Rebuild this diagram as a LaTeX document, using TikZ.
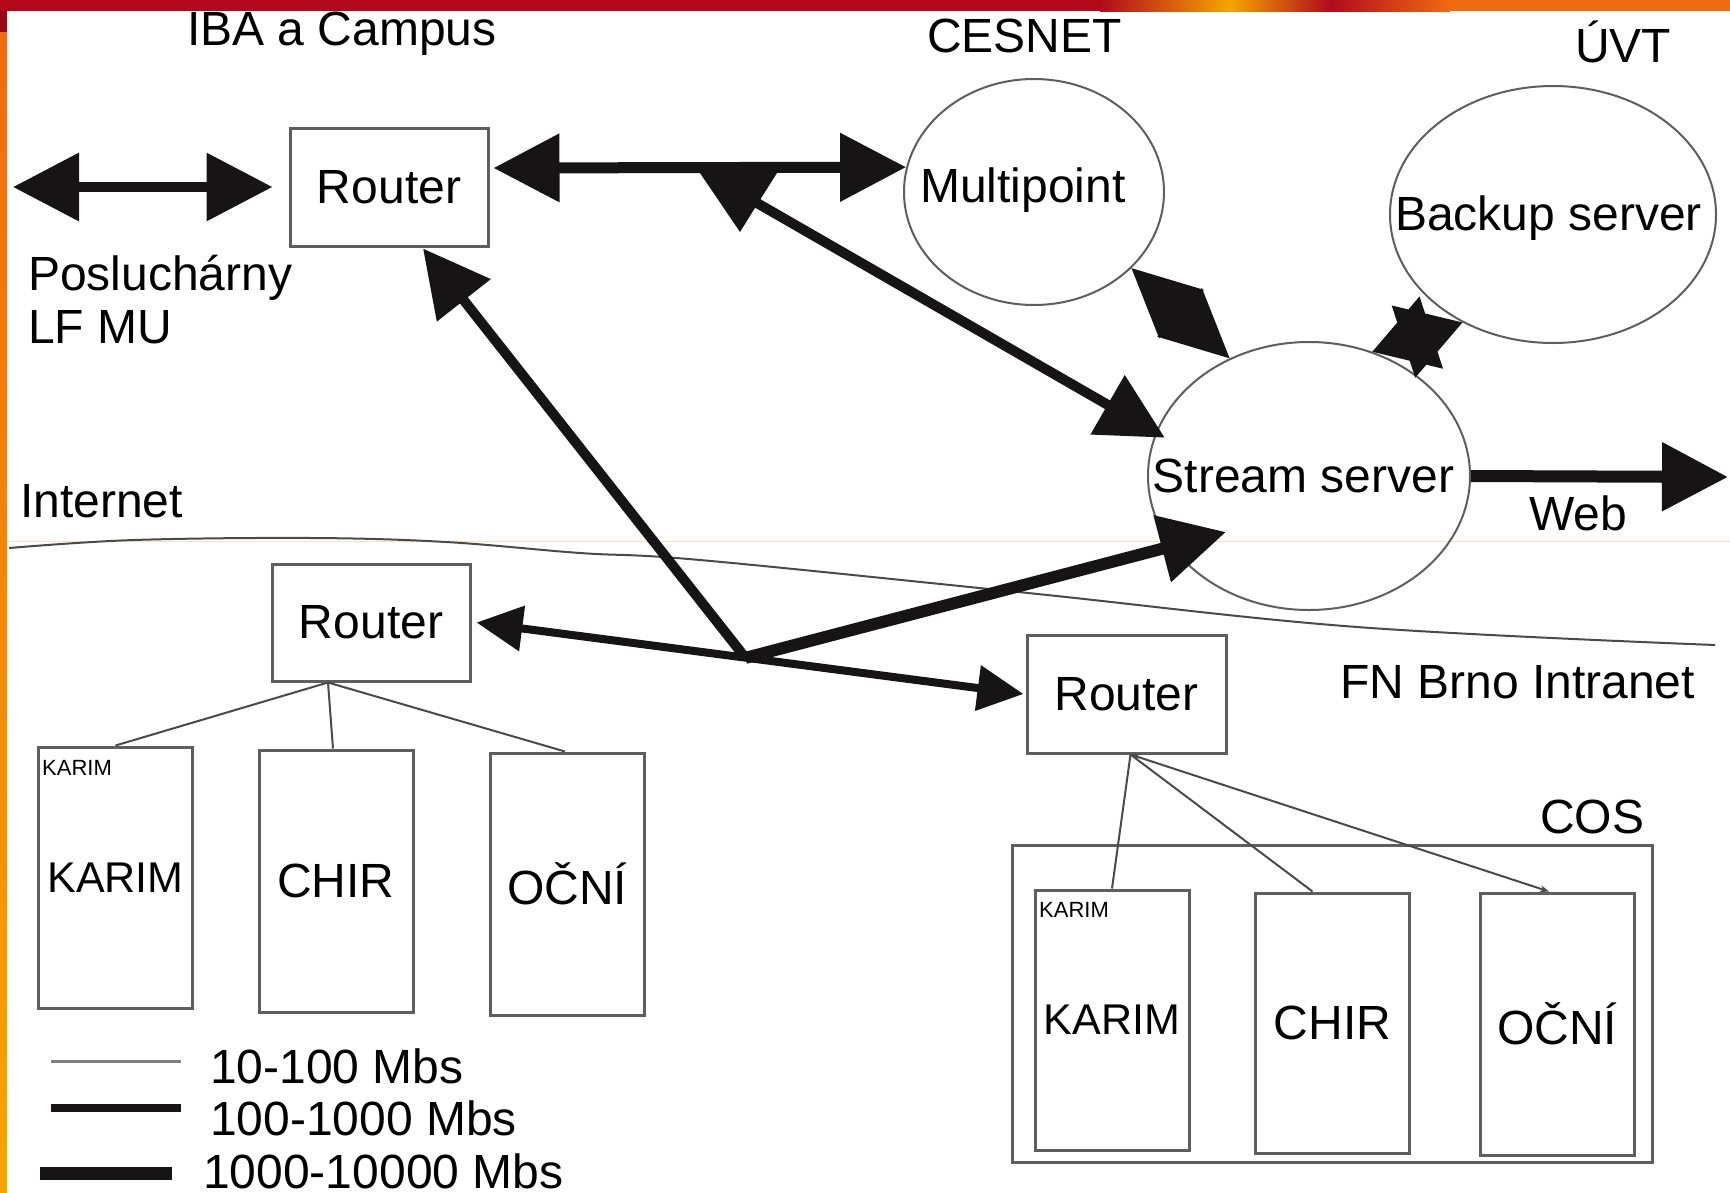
\documentclass[tikz,border=0pt]{standalone}
\usepackage{fontspec}
\setmainfont{Liberation Sans}
\usetikzlibrary{arrows.meta,calc,shapes.geometric}
\definecolor{barred}{HTML}{B20A1C}
\definecolor{barorange}{HTML}{F06A12}
\definecolor{baryellow}{HTML}{F5A500}
\definecolor{boxgray}{HTML}{5E5E5E}
\definecolor{thingray}{HTML}{4A4A4A}
\definecolor{inkblack}{HTML}{161414}
% pair of arrow heads pointing at the two ends of a very short link (one filled path, no seam)
\newcommand\headpair[4]{%
  \fill[inkblack, nonzero rule]
    (#1) -- ($(#1)!#3!(#2)!#4!90:(#2)$) -- ($(#1)!#3!(#2)!#4!-90:(#2)$) -- cycle
    (#2) -- ($(#2)!#3!(#1)!#4!90:(#1)$) -- ($(#2)!#3!(#1)!#4!-90:(#1)$) -- cycle;}
\begin{document}
\begin{tikzpicture}[x=1pt,y=-1pt,
  lbl/.style={inner sep=0pt, anchor=base west, font=\fontsize{48}{56}\selectfont},
  smalllbl/.style={inner sep=0pt, anchor=base west, font=\fontsize{22}{26}\selectfont},
  box/.style={draw=boxgray, line width=3pt, inner sep=0pt, font=\fontsize{48}{56}\selectfont},
  vbox/.style={box, minimum width=154pt, minimum height=261pt},
  ell/.style={draw=boxgray, line width=2pt, ellipse, inner sep=0pt},
  thinlink/.style={draw=thingray, line width=2pt},
  bigtip/.style={draw=inkblack, arrows={-Triangle[length=66pt,width=66pt]}},
  bigdbl/.style={draw=inkblack, arrows={Triangle[length=66pt,width=66pt]-Triangle[length=66pt,width=66pt]}},
  meddbl/.style={draw=inkblack, arrows={Triangle[length=46pt,width=44pt]-Triangle[length=46pt,width=44pt]}},
]
\useasboundingbox (0,0) rectangle (1730,1192);
\fill[white] (0,0) rectangle (1730,1192);

% faint guide line and Internet / Intranet boundary
\draw[orange!25, line width=1pt] (7,541) -- (1730,541);
\draw[thingray, line width=2pt] plot[smooth, tension=0.6] coordinates
  {(9,548) (134,540) (312,538) (446,542) (580,553) (700,560) (1028,593) (1357,627) (1715,645)};

% routers
\node[box, minimum width=198pt, minimum height=118pt] (rt) at (389,187) {Router};
\node[box, minimum width=198pt, minimum height=117pt] (rl) at (371,622.5) {Router};
\node[box, minimum width=199pt, minimum height=118pt] (rr) at (1126.5,694) {Router};

% servers
\node[ell, minimum width=260pt, minimum height=226pt] (mp) at (1034,192) {};
\node[ell, minimum width=326pt, minimum height=257pt] (bk) at (1553,214.5) {};
\node[ell, minimum width=322pt, minimum height=268pt] (ss) at (1309,476) {};
\node[lbl, anchor=base] (mpt) at (1023,202) {Multipoint};
\node[lbl, anchor=base] (bkt) at (1548.5,230) {Backup server};
\node[lbl, anchor=base] (sst) at (1303.5,492) {Stream server};

% departments left
\node[vbox] (kl) at (115.5,877.5) {\fontsize{43}{50}\selectfont KARIM};
\node[vbox, minimum height=262pt] (cl) at (336,881) {CHIR};
\node[vbox, minimum height=262pt] (ol) at (567,884) {OČNÍ};
\node[smalllbl] (kls) at (42,775) {KARIM};

% COS
\node[draw=boxgray, line width=3pt, inner sep=0pt, minimum width=640pt, minimum height=317pt] (cos) at (1332,1003.5) {};
\node[vbox, minimum height=260pt] (kr) at (1112,1020) {\fontsize{43}{50}\selectfont KARIM};
\node[vbox, minimum height=260pt] (cr) at (1332.5,1023) {CHIR};
\node[vbox, minimum height=262pt] (or) at (1557,1024) {OČNÍ};
\node[smalllbl] (krs) at (1039,917) {KARIM};

% thick links
\coordinate (pl) at (13,187);
\draw[line width=10pt, bigdbl] (pl) -- ([xshift=-16pt]rt.west);
\draw[line width=11pt, bigdbl] ([shift={(4pt,19pt)}]rt.east) -- (mp.169);
\coordinate (tj) at (757,203);
\draw[line width=10pt, bigtip] (tj) -- ([shift={(10pt,-3pt)}]ss.165);
\fill[inkblack] (700,173) -- (777,173) -- (758,203) -- (740,232) -- cycle;

\draw[line width=8pt, meddbl] ([xshift=5pt]rl.east) -- ([xshift=-2pt]rr.west);
\coordinate (J) at ($(rl.east)!0.4945!(rr.west)$);
\draw[line width=10pt, bigtip] (J) -- ([shift={(34pt,-1pt)}]rt.south);
\draw[line width=12pt, bigtip] (J) -- ($(ss)+(-83,56)$);

\coordinate (web) at (1728,477);
\draw[line width=12pt, bigtip] (ss.east) -- (web);

\headpair{mp.-38.5}{ss.124.8}{68pt}{33pt}
\headpair{ss.63.8}{bk.230.2}{62pt}{38pt}

% thin links
\draw[thinlink] ([xshift=-43pt]rl.south) -- (kl.north);
\draw[thinlink] ([xshift=-43pt]rl.south) -- ([xshift=-3pt]cl.north);
\draw[thinlink] ([xshift=-43pt]rl.south) -- ([xshift=-2pt]ol.north);
\draw[thinlink] ([xshift=4pt]rr.south) -- (kr.north);
\draw[thinlink] ([xshift=4pt]rr.south) -- ([xshift=-20pt]cr.north);
\draw[thinlink, arrows={Stealth[length=9pt,width=7pt]-Stealth[length=9pt,width=7pt]}] ([xshift=4pt]rr.south) -- ([xshift=-8pt]or.north);

% texts
\node[lbl] (iba) at (187,45) {IBA a Campus};
\node[lbl] (ces) at (927,52) {CESNET};
\node[lbl] (uvt) at (1575,62) {ÚVT};
\node[lbl] (pos1) at (28,290) {Posluchárny};
\node[lbl] (pos2) at (28,343) {LF MU};
\node[lbl] (inet) at (20,517) {Internet};
\node[lbl] (webt) at (1529,530) {Web};
\node[lbl] (fnb) at (1340,698) {FN Brno Intranet};
\node[lbl] (cost) at (1540,833) {COS};

% legend
\draw[draw=gray, line width=3pt] (51,1061) -- (181,1061);
\draw[draw=inkblack, line width=8pt] (51,1108) -- (181,1108);
\draw[draw=inkblack, line width=13pt] (40,1173) -- (172,1173);
\node[lbl] (lg1) at (210,1083) {10-100 Mbs};
\node[lbl] (lg2) at (210,1135) {100-1000 Mbs};
\node[lbl] (lg3) at (203,1188) {1000-10000 Mbs};

% slide frame
\shade[top color=barorange, bottom color=baryellow] (0,0) rectangle (7,1192);
\fill[barred!85!black] (0,11) rectangle (7,32);
\fill[barred] (0,0) rectangle (1100,11);
\shade[left color=barred, right color=baryellow] (1100,0) rectangle (1230,11);
\shade[left color=baryellow, right color=barred] (1230,0) rectangle (1330,11);
\shade[left color=barred, right color=barorange] (1330,0) rectangle (1450,11);
\fill[barorange] (1450,0) rectangle (1730,11);
\end{tikzpicture}
\end{document}
